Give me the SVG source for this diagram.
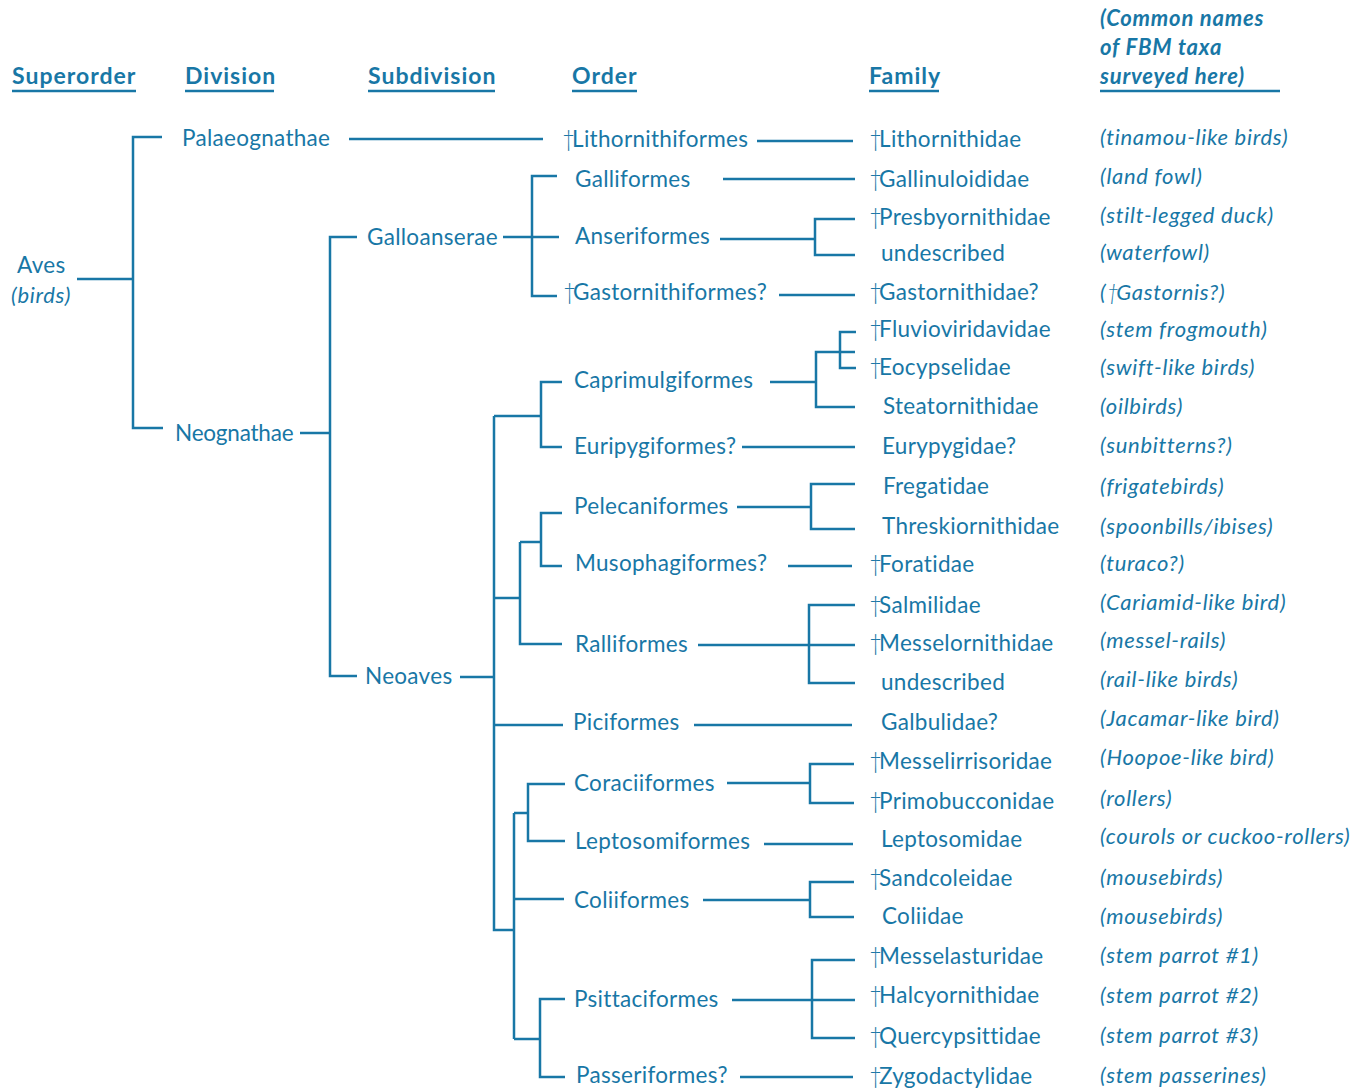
<svg xmlns="http://www.w3.org/2000/svg" width="1361" height="1092" viewBox="0 0 1361 1092">
<style>
text{font-family:Lato,"Open Sans","Liberation Sans",sans-serif;fill:#1877a6;font-size:22.5px;letter-spacing:0.3px}
.h{font-weight:bold;font-size:23px;letter-spacing:1px}
.hi{font-weight:bold;font-style:italic;font-size:22px;letter-spacing:0.8px}
.c{font-style:italic;font-size:22px;letter-spacing:0.7px}
.d{font-weight:300;letter-spacing:-3px}
.ul{stroke:#1877a6;stroke-width:2.5;fill:none}
#connectors path{stroke:#1877a6;stroke-width:2.5;fill:none;stroke-linecap:butt}
</style>
<rect width="1361" height="1092" fill="#fff"/>
<g id="headers">
<text class="h" x="12" y="84">Superorder</text><path class="ul" d="M12 91H136"/>
<text class="h" x="185" y="84">Division</text><path class="ul" d="M185 91H274"/>
<text class="h" x="368" y="84">Subdivision</text><path class="ul" d="M368 91H495"/>
<text class="h" x="572" y="84">Order</text><path class="ul" d="M572 91H637"/>
<text class="h" x="869" y="84">Family</text><path class="ul" d="M869 91H939"/>
<text class="hi" x="1100" y="26">(Common names</text>
<text class="hi" x="1100" y="55">of FBM taxa</text>
<text class="hi" x="1100" y="84">surveyed here)</text><path class="ul" d="M1100 91H1280"/>
</g>
<g id="connectors">
<path d="M77 279H133M162 137H133V428H163"/>
<path d="M349 139H543M757 141H853"/>
<path d="M300 433H330M357 237H330V676H357"/>
<path d="M503 237H559M557 176H532V296H557M723 179H855"/>
<path d="M720 239H815M855 219H815V255H855M779 295H855"/>
<path d="M460 677H494M494 416V930H514M494 598H520M494 725H563M694 725H852"/>
<path d="M494 416H541M562 382H541V447H562M770 382H816M855 352H816V407H855M816 352H840M856 332H840V368H856M742 447H855"/>
<path d="M520 542H541M562 513H541V566H562M520 542V644H562M737 507H811M855 484H811V529H855M788 566H852M698 645H855M855 605H809V683H855"/>
<path d="M514 813V1039M514 813H528M565 784H528V841H565M727 783H810M854 764H810V803H854M764 844H853"/>
<path d="M514 899H564M703 900H810M854 882H810V917H854"/>
<path d="M514 1039H540M565 999H540V1077H565M732 1000H855M855 960H812V1038H855M740 1077H853"/>
</g>
<g id="n-aves"><text x="17" y="273">Aves</text><text class="c" x="11" y="303">(birds)</text></g>
<g id="n-palaeognathae"><text x="182" y="146">Palaeognathae</text></g>
<g id="n-neognathae"><text x="175" y="441" style="letter-spacing:-0.2px">Neognathae</text></g>
<g id="n-galloanserae"><text x="367" y="245">Galloanserae</text></g>
<g id="n-neoaves"><text x="365" y="684">Neoaves</text></g>
<g id="orders">
<g id="o-lithornithiformes"><text x="562" y="147"><tspan class="d">†</tspan>Lithornithiformes</text></g>
<g id="o-galliformes"><text x="575" y="187">Galliformes</text></g>
<g id="o-anseriformes"><text x="575" y="244">Anseriformes</text></g>
<g id="o-gastornithiformes"><text x="563" y="300"><tspan class="d">†</tspan>Gastornithiformes?</text></g>
<g id="o-caprimulgiformes"><text x="574" y="388">Caprimulgiformes</text></g>
<g id="o-euripygiformes"><text x="574" y="454">Euripygiformes?</text></g>
<g id="o-pelecaniformes"><text x="574" y="514">Pelecaniformes</text></g>
<g id="o-musophagiformes"><text x="575" y="571">Musophagiformes?</text></g>
<g id="o-ralliformes"><text x="575" y="652">Ralliformes</text></g>
<g id="o-piciformes"><text x="573" y="730">Piciformes</text></g>
<g id="o-coraciiformes"><text x="574" y="791">Coraciiformes</text></g>
<g id="o-leptosomiformes"><text x="575" y="849">Leptosomiformes</text></g>
<g id="o-coliiformes"><text x="574" y="908">Coliiformes</text></g>
<g id="o-psittaciformes"><text x="574" y="1007">Psittaciformes</text></g>
<g id="o-passeriformes"><text x="576" y="1083">Passeriformes?</text></g>
</g>
<g id="families">
<g id="f-lithornithidae"><text x="869" y="147"><tspan class="d">†</tspan>Lithornithidae</text></g>
<g id="f-gallinuloididae"><text x="869" y="187"><tspan class="d">†</tspan>Gallinuloididae</text></g>
<g id="f-presbyornithidae"><text x="869" y="225"><tspan class="d">†</tspan>Presbyornithidae</text></g>
<g id="f-undescribed1"><text x="881" y="261">undescribed</text></g>
<g id="f-gastornithidae"><text x="869" y="300"><tspan class="d">†</tspan>Gastornithidae?</text></g>
<g id="f-fluvioviridavidae"><text x="869" y="337"><tspan class="d">†</tspan>Fluvioviridavidae</text></g>
<g id="f-eocypselidae"><text x="869" y="375"><tspan class="d">†</tspan>Eocypselidae</text></g>
<g id="f-steatornithidae"><text x="883" y="414">Steatornithidae</text></g>
<g id="f-eurypygidae"><text x="882" y="454">Eurypygidae?</text></g>
<g id="f-fregatidae"><text x="883" y="494">Fregatidae</text></g>
<g id="f-threskiornithidae"><text x="882" y="534">Threskiornithidae</text></g>
<g id="f-foratidae"><text x="869" y="572"><tspan class="d">†</tspan>Foratidae</text></g>
<g id="f-salmilidae"><text x="869" y="613"><tspan class="d">†</tspan>Salmilidae</text></g>
<g id="f-messelornithidae"><text x="869" y="651"><tspan class="d">†</tspan>Messelornithidae</text></g>
<g id="f-undescribed2"><text x="881" y="690">undescribed</text></g>
<g id="f-galbulidae"><text x="881" y="730">Galbulidae?</text></g>
<g id="f-messelirrisoridae"><text x="869" y="769"><tspan class="d">†</tspan>Messelirrisoridae</text></g>
<g id="f-primobucconidae"><text x="869" y="809"><tspan class="d">†</tspan>Primobucconidae</text></g>
<g id="f-leptosomidae"><text x="881" y="847">Leptosomidae</text></g>
<g id="f-sandcoleidae"><text x="869" y="886"><tspan class="d">†</tspan>Sandcoleidae</text></g>
<g id="f-coliidae"><text x="882" y="924">Coliidae</text></g>
<g id="f-messelasturidae"><text x="869" y="964"><tspan class="d">†</tspan>Messelasturidae</text></g>
<g id="f-halcyornithidae"><text x="869" y="1003"><tspan class="d">†</tspan>Halcyornithidae</text></g>
<g id="f-quercypsittidae"><text x="869" y="1044"><tspan class="d">†</tspan>Quercypsittidae</text></g>
<g id="f-zygodactylidae"><text x="869" y="1084"><tspan class="d">†</tspan>Zygodactylidae</text></g>
</g>
<g id="common-names">
<text class="c" x="1100" y="145">(tinamou-like birds)</text>
<text class="c" x="1100" y="184">(land fowl)</text>
<text class="c" x="1100" y="223">(stilt-legged duck)</text>
<text class="c" x="1100" y="260">(waterfowl)</text>
<text class="c" x="1100" y="300">(<tspan class="d">†</tspan>Gastornis?)</text>
<text class="c" x="1100" y="337">(stem frogmouth)</text>
<text class="c" x="1100" y="375">(swift-like birds)</text>
<text class="c" x="1100" y="414">(oilbirds)</text>
<text class="c" x="1100" y="453">(sunbitterns?)</text>
<text class="c" x="1100" y="494">(frigatebirds)</text>
<text class="c" x="1100" y="534">(spoonbills/ibises)</text>
<text class="c" x="1100" y="571">(turaco?)</text>
<text class="c" x="1100" y="610">(Cariamid-like bird)</text>
<text class="c" x="1100" y="648">(messel-rails)</text>
<text class="c" x="1100" y="687">(rail-like birds)</text>
<text class="c" x="1100" y="726">(Jacamar-like bird)</text>
<text class="c" x="1100" y="765">(Hoopoe-like bird)</text>
<text class="c" x="1100" y="806">(rollers)</text>
<text class="c" x="1100" y="844">(courols or cuckoo-rollers)</text>
<text class="c" x="1100" y="885">(mousebirds)</text>
<text class="c" x="1100" y="924">(mousebirds)</text>
<text class="c" x="1100" y="963">(stem parrot #1)</text>
<text class="c" x="1100" y="1003">(stem parrot #2)</text>
<text class="c" x="1100" y="1043">(stem parrot #3)</text>
<text class="c" x="1100" y="1083">(stem passerines)</text>
</g>
</svg>
